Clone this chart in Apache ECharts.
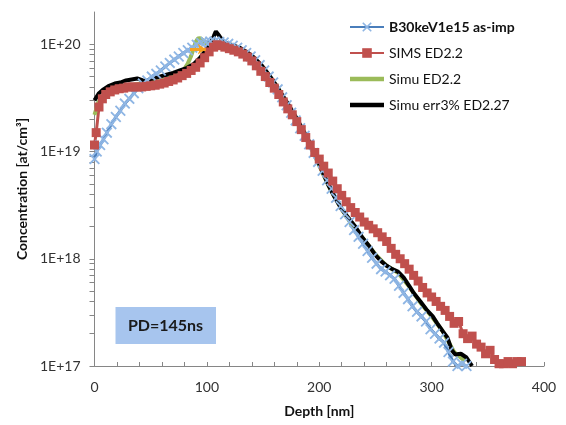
<!DOCTYPE html>
<html>
<head>
<meta charset="utf-8">
<script src="https://cdn.jsdelivr.net/npm/echarts@6/dist/echarts.min.js"></script>
<style>
  html, body { margin: 0; padding: 0; background: #fff; }
  #chart { width: 566px; height: 425px; }
</style>
</head>
<body>
<div id="chart"></div>
<script>
  // series names (legend order)
  const seriesNames = ["B30keV1e15 as-imp", "SIMS ED2.2", "Simu ED2.2", "Simu err3% ED2.27"]

  // as-implanted profile
  const asImpDepth = [0, 2, 5, 8, 11, 15, 19, 23, 27, 31, 35, 39, 43, 47, 51, 55, 59, 63, 67, 71, 75, 79, 83, 87, 91, 95, 99, 103, 107, 111, 115, 119, 123, 127, 131, 135, 139, 143, 147, 151, 155, 159, 163, 167, 171, 175, 179, 183, 187, 191, 195, 199, 203, 207, 211, 215, 219, 223, 227, 231, 235, 239, 243, 247, 251, 255, 259, 263, 267, 271, 275, 279, 283, 287, 291, 295, 299, 303, 307, 311, 315, 319, 323, 327, 331]
  const asImpConc = [8.5e18, 1.0e19, 1.15e19, 1.3e19, 1.5e19, 1.8e19, 2.1e19, 2.4e19, 2.8e19, 3.1e19, 3.5e19, 3.9e19, 4.3e19, 4.6e19, 5.0e19, 5.3e19, 5.7e19, 6.2e19, 6.7e19, 7.2e19, 7.7e19, 8.3e19, 8.8e19, 9.3e19, 9.9e19, 1.03e20, 1.05e20, 1.06e20, 1.06e20, 1.05e20, 1.04e20, 1.01e20, 9.7e19, 9.3e19, 8.8e19, 8.3e19, 7.7e19, 7.1e19, 6.4e19, 5.7e19, 5.0e19, 4.4e19, 3.8e19, 3.2e19, 2.7e19, 2.3e19, 1.95e19, 1.65e19, 1.4e19, 1.17e19, 9.7e18, 8.0e18, 6.6e18, 5.4e18, 4.5e18, 3.7e18, 3.1e18, 2.6e18, 2.2e18, 1.85e18, 1.6e18, 1.38e18, 1.18e18, 1.02e18, 9.0e17, 8.0e17, 7.6e17, 7.0e17, 6.5e17, 5.6e17, 4.8e17, 4.2e17, 3.6e17, 3.2e17, 2.9e17, 2.6e17, 2.2e17, 2.0e17, 1.8e17, 1.65e17, 1.35e17, 1.1e17, 1.0e17, 1.05e17, 1.0e17]

  // SIMS measurement
  const simsDepth = [0, 1.5, 4, 7, 10, 14, 18, 22, 26, 30, 34, 38, 42, 46, 50, 54, 58, 62, 66, 70, 74, 78, 82, 86, 90, 94, 98, 102, 106, 109, 112, 116, 120, 124, 128, 132, 136, 140, 144, 148, 152, 156, 160, 164, 168, 172, 176, 180, 184, 188, 192, 196, 200, 204, 208, 212, 216, 220, 224, 228, 232, 236, 240, 244, 248, 252, 256, 260, 264, 268, 272, 276, 280, 284, 288, 292, 296, 300, 304, 308, 312, 316, 320, 324, 328, 332, 336, 340, 344, 348, 352, 356, 360, 364, 368, 372, 376, 380]
  const simsConc = [1.15e19, 1.5e19, 2.6e19, 3.1e19, 3.4e19, 3.6e19, 3.75e19, 3.85e19, 3.9e19, 4.0e19, 4.0e19, 4.0e19, 4.0e19, 4.05e19, 4.1e19, 4.15e19, 4.25e19, 4.35e19, 4.5e19, 4.65e19, 4.85e19, 5.1e19, 5.35e19, 5.7e19, 6.1e19, 6.7e19, 7.5e19, 8.5e19, 9.4e19, 9.9e19, 9.7e19, 9.4e19, 9.1e19, 8.8e19, 8.5e19, 8.1e19, 7.6e19, 7.0e19, 6.3e19, 5.6e19, 5.0e19, 4.4e19, 3.9e19, 3.4e19, 2.9e19, 2.5e19, 2.2e19, 1.9e19, 1.6e19, 1.35e19, 1.15e19, 9.8e18, 8.5e18, 7.3e18, 6.3e18, 5.3e18, 4.5e18, 3.9e18, 3.4e18, 3.0e18, 2.7e18, 2.45e18, 2.2e18, 2.05e18, 1.9e18, 1.75e18, 1.6e18, 1.45e18, 1.25e18, 1.1e18, 1.0e18, 9.0e17, 8.0e17, 7.0e17, 6.2e17, 5.4e17, 4.8e17, 4.4e17, 4.0e17, 3.6e17, 3.3e17, 2.9e17, 2.5e17, 2.6e17, 2.0e17, 1.8e17, 1.9e17, 1.6e17, 1.5e17, 1.3e17, 1.4e17, 1.15e17, 1.05e17, 1.05e17, 1.1e17, 1.05e17, 1.1e17, 1.1e17]

  // simulation ED2.2
  const simuDepth = [0, 3, 6, 10, 15, 20, 25, 30, 35, 40, 45, 50, 55, 60, 65, 70, 75, 80, 83, 86, 88, 90, 92, 94, 96, 98, 102, 106, 110, 114, 120, 126, 132, 138, 144, 150, 156, 162, 168, 174, 180, 186, 192, 198, 204, 210, 220, 230, 240, 250, 260, 270, 280, 290, 300, 310, 320, 330]
  const simuConc = [2.2e19, 2.8e19, 3.2e19, 3.5e19, 3.8e19, 3.95e19, 4.05e19, 4.15e19, 4.2e19, 4.3e19, 4.3e19, 4.4e19, 4.5e19, 4.6e19, 4.8e19, 5.0e19, 5.4e19, 5.9e19, 6.6e19, 7.8e19, 9.0e19, 1.05e20, 1.13e20, 1.14e20, 1.1e20, 1.04e20, 9.9e19, 9.9e19, 1.01e20, 1.0e20, 9.8e19, 9.4e19, 8.8e19, 8.0e19, 7.0e19, 6.0e19, 5.0e19, 4.1e19, 3.2e19, 2.5e19, 1.95e19, 1.5e19, 1.12e19, 8.2e18, 6.0e18, 4.4e18, 2.9e18, 2.0e18, 1.5e18, 1.1e18, 8.6e17, 7.4e17, 5.5e17, 3.9e17, 2.9e17, 2.1e17, 1.35e17, 1.1e17]

  // simulation err3% ED2.27
  const errDepth = [0, 4, 8, 13, 18, 23, 28, 33, 38, 43, 47, 52, 58, 64, 70, 76, 82, 88, 94, 99, 103, 106, 108, 111, 114, 118, 124, 130, 136, 142, 148, 154, 160, 166, 172, 178, 184, 190, 196, 202, 208, 214, 220, 226, 232, 238, 244, 250, 255, 260, 265, 270, 275, 280, 284, 290, 296, 301, 305, 310, 314, 318, 321, 326, 331, 336]
  const errConc = [3.0e19, 3.5e19, 3.8e19, 4.1e19, 4.3e19, 4.4e19, 4.6e19, 4.7e19, 4.8e19, 4.6e19, 4.55e19, 4.8e19, 5.0e19, 5.2e19, 5.4e19, 5.7e19, 6.0e19, 6.5e19, 7.5e19, 8.8e19, 1.0e20, 1.18e20, 1.32e20, 1.2e20, 1.08e20, 1.02e20, 9.7e19, 9.2e19, 8.4e19, 7.5e19, 6.5e19, 5.4e19, 4.4e19, 3.5e19, 2.8e19, 2.2e19, 1.7e19, 1.3e19, 9.6e18, 6.8e18, 4.9e18, 3.7e18, 2.9e18, 2.4e18, 2.0e18, 1.6e18, 1.33e18, 1.08e18, 9.5e17, 8.6e17, 8.0e17, 7.6e17, 6.7e17, 5.6e17, 4.8e17, 4.0e17, 3.3e17, 2.9e17, 2.5e17, 2.1e17, 1.85e17, 1.4e17, 1.28e17, 1.3e17, 1.2e17, 1.0e17]

  // axis ticks
  const yLabelValues = [1e17, 1e18, 1e19, 1e20]
  const yTickValues = [1e17, 2e17, 3e17, 4e17, 5e17, 6e17, 7e17, 8e17, 9e17, 1e18, 2e18, 3e18, 4e18, 5e18, 6e18, 7e18, 8e18, 9e18, 1e19, 2e19, 3e19, 4e19, 5e19, 6e19, 7e19, 8e19, 9e19, 1e20]

  // orange arrow annotation
  const arrowFrom = [85, 9.0e19]
  const arrowTo = [99, 9.0e19]

  const font = "Lato, 'Open Sans', sans-serif"
  const crossSymbol = "path://M0,1.2L1.2,0L5,3.8L8.8,0L10,1.2L6.2,5L10,8.8L8.8,10L5,6.2L1.2,10L0,8.8L3.8,5Z"
  const barIcon = "path://M0,0H34V4.5H0Z"

  function zip(xs, ys) {
    return xs.map((x, i) => [x, ys[i]])
  }

  function draw() {
    const option = {
      animation: false,
      backgroundColor: "#fff",
      grid: {
        left: 94.5,
        right: 22,
        top: 12,
        bottom: 59,
      },
      legend: {
        orient: "vertical",
        left: 344,
        top: 15,
        itemWidth: 34,
        itemHeight: 12,
        itemGap: 12,
        textStyle: {
          fontFamily: font,
          fontSize: 14,
          color: "#111",
        },
        data: [
          { name: seriesNames[0], textStyle: { fontWeight: "bold" } },
          { name: seriesNames[1] },
          { name: seriesNames[2], icon: barIcon },
          { name: seriesNames[3], icon: barIcon },
        ],
      },
      xAxis: {
        type: "value",
        min: 0,
        max: 400,
        interval: 20,
        name: "Depth [nm]",
        nameLocation: "middle",
        nameGap: 38,
        nameTextStyle: {
          fontFamily: font,
          fontSize: 14,
          fontWeight: "bold",
          color: "#111",
        },
        axisLine: { lineStyle: { color: "#868686", width: 1 } },
        axisTick: { inside: true, length: 4, lineStyle: { color: "#868686" } },
        axisLabel: {
          fontFamily: font,
          fontSize: 14,
          color: "#333",
          margin: 14,
          formatter: (v) => (v % 100 === 0 ? String(v) : ""),
        },
        splitLine: { show: false },
      },
      yAxis: {
        type: "log",
        logBase: 10,
        min: 1e17,
        max: 2e20,
        name: "Concentration [at/cm³]",
        nameLocation: "middle",
        nameGap: 62,
        nameTextStyle: {
          fontFamily: font,
          fontSize: 14,
          fontWeight: "bold",
          color: "#111",
        },
        axisLine: { show: true, lineStyle: { color: "#868686", width: 1 } },
        axisTick: {
          show: true,
          length: 5,
          customValues: yTickValues,
          lineStyle: { color: "#868686" },
        },
        axisLabel: {
          fontFamily: font,
          fontSize: 14,
          color: "#333",
          margin: 14,
          customValues: yLabelValues,
          formatter: (v) => "1E+" + Math.round(Math.log10(v)),
        },
        splitLine: { show: false },
      },
      series: [
        {
          name: seriesNames[0],
          type: "line",
          data: zip(asImpDepth, asImpConc),
          symbol: crossSymbol,
          symbolSize: 11,
          itemStyle: { color: "#8fb6e4" },
          lineStyle: { color: "#4a7ebb", width: 3 },
        },
        {
          name: seriesNames[1],
          type: "line",
          data: zip(simsDepth, simsConc),
          symbol: "rect",
          symbolSize: 9,
          itemStyle: { color: "#c0504d" },
          lineStyle: { color: "#c0504d", width: 3 },
        },
        {
          name: seriesNames[2],
          type: "line",
          data: zip(simuDepth, simuConc),
          symbol: "none",
          itemStyle: { color: "#9bbb59" },
          lineStyle: { color: "#9bbb59", width: 4 },
        },
        {
          name: seriesNames[3],
          type: "line",
          data: zip(errDepth, errConc),
          symbol: "none",
          itemStyle: { color: "#000" },
          lineStyle: { color: "#000", width: 4 },
          markLine: {
            silent: true,
            symbol: ["none", "arrow"],
            symbolSize: 8,
            label: { show: false },
            lineStyle: { color: "#f7a020", width: 3, type: "solid" },
            data: [[{ coord: arrowFrom }, { coord: arrowTo }]],
          },
        },
      ],
      graphic: [
        {
          type: "group",
          left: 115.5,
          top: 307,
          children: [
            {
              type: "rect",
              shape: { x: 0, y: 0, width: 100.5, height: 37 },
              style: { fill: "#a7c5ee" },
            },
            {
              type: "text",
              x: 50,
              y: 19,
              style: {
                text: "PD=145ns",
                fontFamily: font,
                fontSize: 16,
                fontWeight: "bold",
                fill: "#1a1a1a",
                align: "center",
                verticalAlign: "middle",
              },
            },
          ],
        },
      ],
    }
    const myChart = echarts.init(document.getElementById("chart"))
    myChart.clear()
    myChart.setOption(option)
  }
  draw()
</script>
</body>
</html>
